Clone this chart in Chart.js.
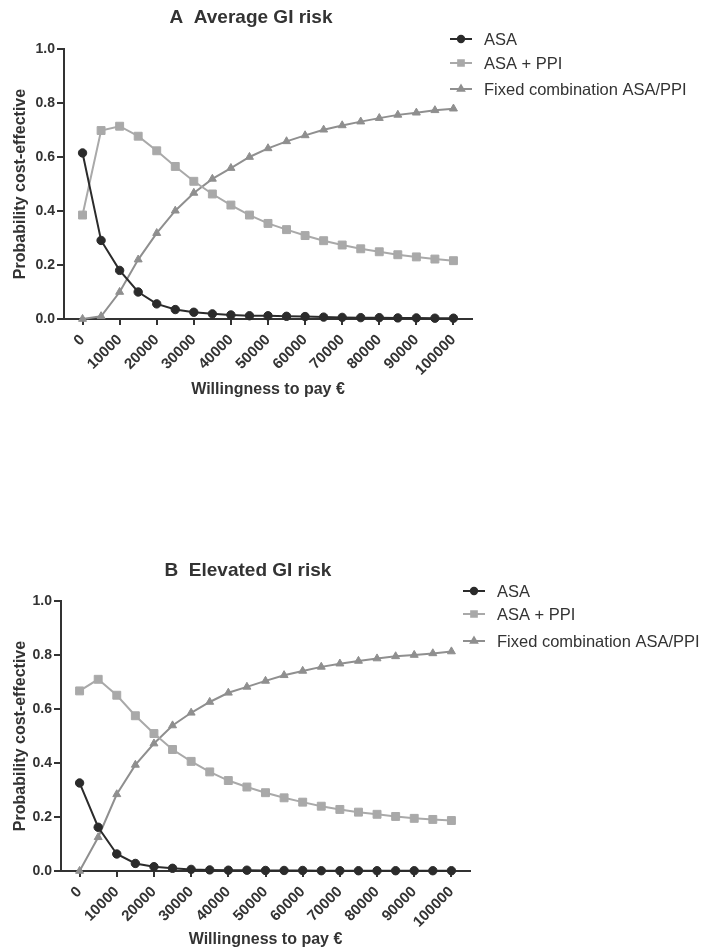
<!DOCTYPE html>
<html>
<head>
<meta charset="utf-8">
<title>Probability cost-effective vs willingness to pay</title>
<script src="https://cdn.jsdelivr.net/npm/chart.js@4/dist/chart.umd.min.js"></script>
<style>
  body { margin: 0; background: #fff; }
  canvas { position: absolute; left: 0; }
  #chartA { top: 0; }
  #chartB { top: 551px; }
</style>
</head>
<body>
<canvas id="chartA" width="706" height="420"></canvas>
<canvas id="chartB" width="706" height="400"></canvas>
<script>
// willingness to pay (x) and tick marks
const wtp = [0, 5000, 10000, 15000, 20000, 25000, 30000, 35000, 40000, 45000, 50000,
             55000, 60000, 65000, 70000, 75000, 80000, 85000, 90000, 95000, 100000]
const xTickValues = [0, 10000, 20000, 30000, 40000, 50000, 60000, 70000, 80000, 90000, 100000]
const yTickValues = [0, 0.2, 0.4, 0.6, 0.8, 1.0]

const seriesNames = ["ASA", "ASA + PPI", "Fixed combination ASA/PPI"]

// A - average GI risk
const asaA    = [0.615, 0.291, 0.180, 0.100, 0.056, 0.035, 0.025, 0.019, 0.015, 0.012, 0.012,
                 0.010, 0.009, 0.007, 0.006, 0.005, 0.005, 0.004, 0.004, 0.003, 0.003]
const asaPpiA = [0.385, 0.698, 0.714, 0.677, 0.623, 0.565, 0.510, 0.463, 0.422, 0.385, 0.354,
                 0.331, 0.309, 0.290, 0.274, 0.260, 0.249, 0.238, 0.230, 0.222, 0.216]
const fixedA  = [0.000, 0.010, 0.100, 0.220, 0.318, 0.401, 0.467, 0.519, 0.559, 0.600, 0.632,
                 0.658, 0.680, 0.701, 0.717, 0.731, 0.744, 0.756, 0.764, 0.773, 0.779]

// B - elevated GI risk
const asaB    = [0.326, 0.162, 0.063, 0.028, 0.016, 0.010, 0.006, 0.004, 0.003, 0.003, 0.002,
                 0.002, 0.002, 0.001, 0.001, 0.001, 0.001, 0.001, 0.001, 0.001, 0.001]
const asaPpiB = [0.667, 0.710, 0.651, 0.575, 0.509, 0.450, 0.406, 0.367, 0.335, 0.311, 0.290,
                 0.271, 0.255, 0.240, 0.228, 0.218, 0.210, 0.202, 0.195, 0.191, 0.187]
const fixedB  = [0.000, 0.125, 0.284, 0.393, 0.472, 0.539, 0.586, 0.626, 0.660, 0.682, 0.704,
                 0.725, 0.741, 0.756, 0.768, 0.778, 0.787, 0.795, 0.800, 0.806, 0.813]

const styles = [
    { color: "#2b2b2b", pointStyle: "circle",   pointRadius: 4.2, legendRadius: 3.2 },
    { color: "#a9a9a9", pointStyle: "rect",     pointRadius: 5.6, legendRadius: 4.0 },
    { color: "#8f8f8f", pointStyle: "triangle", pointRadius: 4.6, legendRadius: 3.6 }
]

Chart.defaults.font.family = "'Liberation Sans', Arial, sans-serif"
Chart.defaults.color = "#333"

// panel title and legend drawn at fixed spots
const headerPlugin = {
    id: "header",
    afterDraw(chart, args, opts) {
        const ctx = chart.ctx
        ctx.save()
        ctx.fillStyle = "#333"
        ctx.font = "bold 19px 'Liberation Sans', Arial, sans-serif"
        ctx.textAlign = "center"
        ctx.textBaseline = "middle"
        ctx.fillText(opts.text, opts.x, opts.y)

        ctx.font = "16.5px 'Liberation Sans', Arial, sans-serif"
        ctx.textAlign = "left"
        chart.data.datasets.forEach((ds, i) => {
            const y = opts.legendY[i]
            const x = opts.legendX
            ctx.strokeStyle = ds.borderColor
            ctx.fillStyle = ds.borderColor
            ctx.lineWidth = 2
            ctx.beginPath()
            ctx.moveTo(x, y)
            ctx.lineTo(x + 22, y)
            ctx.stroke()
            Chart.helpers.drawPoint(ctx, {
                pointStyle: ds.pointStyle, radius: styles[i].legendRadius, borderWidth: 1, rotation: 0
            }, x + 11, y)
            ctx.fillStyle = "#333"
            ctx.fillText(ds.label, x + 34, y + 1)
        })
        ctx.restore()
    }
}

function makeChart(canvasId, title, values, g) {
    const datasets = values.map((vals, i) => ({
        label: seriesNames[i],
        data: wtp.map((x, j) => ({ x: x, y: vals[j] })),
        borderColor: styles[i].color,
        backgroundColor: styles[i].color,
        borderWidth: 2,
        pointStyle: styles[i].pointStyle,
        pointRadius: styles[i].pointRadius,
        pointBorderWidth: 1,
        tension: 0,
        clip: false
    }))

    return new Chart(document.getElementById(canvasId), {
        type: "line",
        data: { datasets: datasets },
        plugins: [headerPlugin],
        options: {
            responsive: false,
            animation: false,
            layout: { padding: { top: g.top, left: 0, right: 706 - g.right, bottom: 0 } },
            plugins: {
                legend: { display: false },
                tooltip: { enabled: false },
                header: { text: title, x: g.titleX, y: g.titleY, legendX: g.legendX, legendY: g.legendY }
            },
            scales: {
                x: {
                    type: "linear",
                    min: -5000,
                    max: 105000,
                    afterBuildTicks: s => { s.ticks = xTickValues.map(v => ({ value: v })) },
                    afterFit: s => { s.height = g.height - g.bottom },
                    grid: { drawOnChartArea: false, drawTicks: true, tickLength: 6, color: "#333", lineWidth: 2 },
                    border: { color: "#333", width: 2 },
                    ticks: {
                        autoSkip: false,
                        minRotation: 45,
                        maxRotation: 45,
                        padding: 6,
                        color: "#333",
                        font: { size: 15, weight: "bold" },
                        callback: v => String(v)
                    },
                    title: {
                        display: true,
                        text: "Willingness to pay €",
                        color: "#333",
                        font: { size: 16, weight: "bold" },
                        padding: { top: 0, bottom: g.xTitlePad }
                    }
                },
                y: {
                    min: 0,
                    max: 1,
                    afterBuildTicks: s => { s.ticks = yTickValues.map(v => ({ value: v })) },
                    afterFit: s => { s.width = g.left },
                    grid: { drawOnChartArea: false, drawTicks: true, tickLength: 7, color: "#333", lineWidth: 2 },
                    border: { color: "#333", width: 2 },
                    ticks: {
                        padding: 2,
                        color: "#333",
                        font: { size: 14, weight: "bold" },
                        callback: v => v.toFixed(1)
                    },
                    title: {
                        display: true,
                        text: "Probability cost-effective",
                        color: "#333",
                        font: { size: 16, weight: "bold" },
                        padding: { top: 11, bottom: 0 }
                    }
                }
            }
        }
    })
}

makeChart("chartA", "A  Average GI risk", [asaA, asaPpiA, fixedA], {
    top: 49, left: 64, right: 472, bottom: 319, height: 420, xTitlePad: 21,
    titleX: 251, titleY: 18, legendX: 450, legendY: [39, 63, 89]
})

makeChart("chartB", "B  Elevated GI risk", [asaB, asaPpiB, fixedB], {
    top: 50, left: 61, right: 470, bottom: 320, height: 400, xTitlePad: 2,
    titleX: 248, titleY: 20, legendX: 463, legendY: [40, 63, 90]
})
</script>
</body>
</html>
